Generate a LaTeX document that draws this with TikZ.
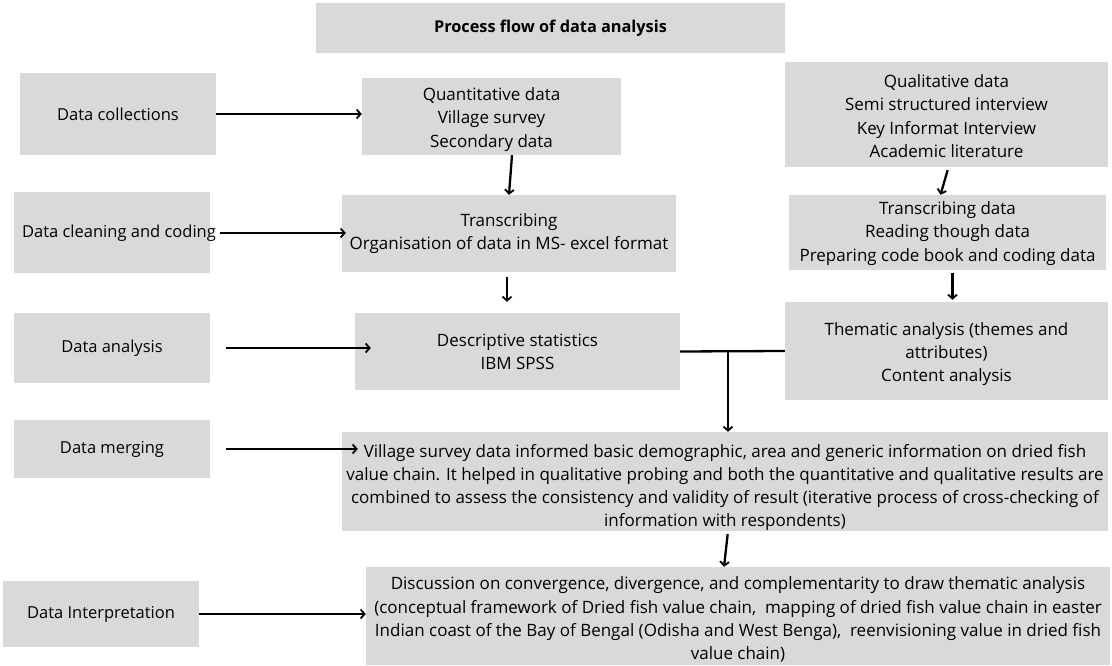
\documentclass[tikz,border=0pt]{standalone}
\usepackage{fontspec}
\setmainfont{Open Sans}
\usetikzlibrary{arrows.meta}
\definecolor{boxgray}{HTML}{D9D9D9}
\tikzset{
  box/.style={fill=boxgray, draw=none, inner sep=0pt, align=center,
    font=\fontsize{17}{23.3}\selectfont},
  stagebox/.style={box, font=\fontsize{16.5}{20}\selectfont},
  arr/.style={line width=2.3pt, -{Straight Barb[length=4pt,width=9pt,line width=1.8pt]}},
  plain/.style={line width=2.3pt},
}
% a taller first line pushes a text block a little lower in its box
\newcommand{\droptext}[1]{\rule{0pt}{#1}}
\begin{document}
\begin{tikzpicture}[x=1pt,y=-1pt]
\useasboundingbox (0,0) rectangle (1112,666);

% title
\node[box, minimum width=469, minimum height=50, font=\bfseries\fontsize{16.3}{20}\selectfont]
  (title) at (550.5,28) {Process flow of data analysis};

% stage labels on the left
\node[stagebox, minimum width=196, minimum height=82] (lcol) at (118,114) {Data collections};
\node[stagebox, minimum width=196, minimum height=81] (lclean) at (112,232.5) {};
\node[font=\fontsize{16.5}{20}\selectfont, inner sep=0pt] (lcleantxt) at (119,233) {Data cleaning and coding};
\node[stagebox, minimum width=196, minimum height=70] (lana) at (112,348) {Data analysis};
\node[stagebox, minimum width=196, minimum height=58] (lmerge) at (112,449) {Data merging};
\node[stagebox, minimum width=196, minimum height=66] (linterp) at (101,614) {Data Interpretation};

% quantitative branch
\node[box, minimum width=259, minimum height=77] (quant) at (491.5,116.5)
  {\droptext{19pt}Quantitative data\\Village survey\\Secondary data};
\node[box, minimum width=334, minimum height=77] (trans) at (509,233.5)
  {Transcribing\\Organisation of data in MS- excel format};
\node[box, minimum width=325, minimum height=77] (desc) at (517.5,351.5)
  {Descriptive statistics\\IBM SPSS};

% qualitative branch
\node[box, minimum width=323, minimum height=105] (qual) at (946.5,114.5)
  {\droptext{16pt}Qualitative data\\Semi structured interview\\Key Informat Interview\\Academic literature};
\node[box, minimum width=317, minimum height=75] (tdata) at (947.5,232.5)
  {\droptext{15pt}Transcribing data\\Reading though data\\Preparing code book and coding data};
\node[box, minimum width=323, minimum height=98] (them) at (946.5,351)
  {\droptext{19pt}Thematic analysis (themes and\\attributes)\\Content analysis};

% merged results
\node[box, minimum width=766, minimum height=97] (merge) at (725,481.5)
  {\droptext{25pt}Village survey data informed basic demographic, area and generic information on dried fish\\
   value chain. It helped in qualitative probing and both the quantitative and qualitative results are\\
   combined to assess the consistency and validity of result (iterative process of cross-checking of\\
   information with respondents)};
\node[box, minimum width=744, minimum height=98] (interp) at (738,616)
  {\droptext{20pt}Discussion on convergence, divergence, and complementarity to draw thematic analysis\\
   (conceptual framework of Dried fish value chain,\ \ mapping of dried fish value chain in easter\\
   Indian coast of the Bay of Bengal (Odisha and West Benga),\ \ reenvisioning value in dried fish\\
   value chain)};

% stage arrows
\draw[arr] (lcol.east) -- (lcol.east -| quant.west);
\draw[arr] ([xshift=4pt]lcleantxt.east) -- ([xshift=4pt]lcleantxt.east -| trans.west);
\draw[arr] ([xshift=16pt]lana.east) -- ([xshift=16pt]lana.east -| desc.west);
\draw[arr] ([xshift=16pt]lmerge.east) -- ([xshift=16pt]lmerge.east -| merge.west);
\draw[arr] (linterp.east) -- (linterp.east -| interp.west);

% flow inside the branches
\draw[arr] ([xshift=3pt]quant.south -| trans.north) -- (trans.north);
\draw[arr, shorten <=5pt, shorten >=11pt] ([xshift=-2pt]trans.south) -- ([xshift=-2pt]trans.south |- desc.north);
\draw[arr, shorten <=3pt] ([xshift=2pt]qual.south) -- ([xshift=-7pt]tdata.north);
\draw[arr, shorten <=3pt, shorten >=2pt] ([xshift=5pt]tdata.south) -- ([xshift=5pt]tdata.south |- them.north);

% joining both branches
\draw[plain] (desc.east) -- (them.west);
\coordinate (junc) at (728,351);
\draw[arr] (junc) -- (junc |- merge.north);
\draw[arr, shorten <=3pt] (merge.south -| junc) -- ([xshift=-14pt]interp.north);
\end{tikzpicture}
\end{document}
